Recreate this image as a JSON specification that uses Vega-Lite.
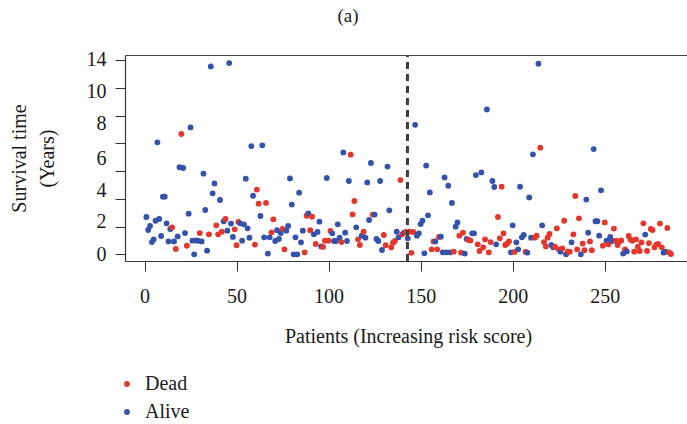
{
 "$schema": "https://vega.github.io/schema/vega-lite/v6.json",
 "width": 562,
 "height": 206,
 "autosize": {"type": "none"},
 "padding": {"left": 125, "top": 55, "right": 0, "bottom": 163},
 "background": "white",
 "config": {"view": {"stroke": null}, "font": "Liberation Serif"},
 "title": {"text": "(a)", "fontSize": 19, "fontWeight": "normal", "font": "Liberation Serif", "color": "#222", "anchor": "middle", "dx": -58, "offset": 24},
 "data": {"values": [
{"patient":1,"time":2.69,"status":"Alive"},{"patient":2,"time":1.75,"status":"Alive"},{"patient":3,"time":2.04,"status":"Alive"},{"patient":4,"time":0.88,"status":"Alive"},{"patient":5,"time":1.08,"status":"Alive"},{"patient":6,"time":2.42,"status":"Alive"},{"patient":7,"time":8.07,"status":"Alive"},{"patient":8,"time":2.55,"status":"Alive"},{"patient":9,"time":1.32,"status":"Alive"},{"patient":10,"time":4.15,"status":"Alive"},
{"patient":11,"time":4.15,"status":"Alive"},{"patient":12,"time":2.23,"status":"Alive"},{"patient":13,"time":0.93,"status":"Alive"},{"patient":14,"time":1.82,"status":"Alive"},{"patient":15,"time":1.94,"status":"Dead"},{"patient":16,"time":0.93,"status":"Alive"},{"patient":17,"time":0.38,"status":"Dead"},{"patient":18,"time":1.29,"status":"Alive"},{"patient":19,"time":6.27,"status":"Alive"},{"patient":20,"time":8.67,"status":"Dead"},
{"patient":21,"time":6.22,"status":"Alive"},{"patient":22,"time":1.53,"status":"Alive"},{"patient":23,"time":0.62,"status":"Dead"},{"patient":24,"time":2.93,"status":"Alive"},{"patient":25,"time":9.14,"status":"Alive"},{"patient":26,"time":0.98,"status":"Alive"},{"patient":27,"time":0.0,"status":"Alive"},{"patient":28,"time":1.0,"status":"Alive"},{"patient":29,"time":0.98,"status":"Alive"},{"patient":30,"time":1.53,"status":"Dead"},
{"patient":31,"time":0.93,"status":"Alive"},{"patient":32,"time":5.81,"status":"Alive"},{"patient":33,"time":3.19,"status":"Alive"},{"patient":34,"time":0.26,"status":"Alive"},{"patient":35,"time":1.44,"status":"Dead"},{"patient":36,"time":13.54,"status":"Alive"},{"patient":37,"time":4.39,"status":"Alive"},{"patient":38,"time":5.11,"status":"Alive"},{"patient":39,"time":2.09,"status":"Dead"},{"patient":40,"time":1.44,"status":"Dead"},
{"patient":41,"time":3.91,"status":"Alive"},{"patient":42,"time":1.63,"status":"Dead"},{"patient":43,"time":2.38,"status":"Alive"},{"patient":44,"time":2.55,"status":"Dead"},{"patient":45,"time":1.70,"status":"Alive"},{"patient":46,"time":13.78,"status":"Alive"},{"patient":47,"time":2.21,"status":"Alive"},{"patient":48,"time":1.25,"status":"Alive"},{"patient":49,"time":1.80,"status":"Dead"},{"patient":50,"time":0.65,"status":"Dead"},
{"patient":51,"time":2.33,"status":"Dead"},{"patient":52,"time":2.23,"status":"Alive"},{"patient":53,"time":0.98,"status":"Alive"},{"patient":54,"time":2.16,"status":"Alive"},{"patient":55,"time":5.45,"status":"Alive"},{"patient":56,"time":1.87,"status":"Alive"},{"patient":57,"time":1.20,"status":"Alive"},{"patient":58,"time":7.80,"status":"Alive"},{"patient":59,"time":4.22,"status":"Alive"},{"patient":60,"time":0.70,"status":"Dead"},
{"patient":61,"time":4.66,"status":"Dead"},{"patient":62,"time":3.65,"status":"Dead"},{"patient":63,"time":2.76,"status":"Alive"},{"patient":64,"time":7.85,"status":"Alive"},{"patient":65,"time":1.22,"status":"Alive"},{"patient":66,"time":3.70,"status":"Dead"},{"patient":67,"time":0.05,"status":"Alive"},{"patient":68,"time":1.22,"status":"Alive"},{"patient":69,"time":1.58,"status":"Dead"},{"patient":70,"time":2.52,"status":"Dead"},
{"patient":71,"time":0.96,"status":"Alive"},{"patient":72,"time":1.73,"status":"Alive"},{"patient":73,"time":1.10,"status":"Alive"},{"patient":74,"time":1.53,"status":"Alive"},{"patient":75,"time":1.82,"status":"Dead"},{"patient":76,"time":0.36,"status":"Dead"},{"patient":77,"time":1.70,"status":"Alive"},{"patient":78,"time":2.04,"status":"Alive"},{"patient":79,"time":5.47,"status":"Alive"},{"patient":80,"time":3.58,"status":"Alive"},
{"patient":81,"time":0.0,"status":"Alive"},{"patient":82,"time":1.22,"status":"Alive"},{"patient":83,"time":0.0,"status":"Alive"},{"patient":84,"time":4.44,"status":"Alive"},{"patient":85,"time":0.86,"status":"Alive"},{"patient":86,"time":1.70,"status":"Alive"},{"patient":87,"time":0.14,"status":"Dead"},{"patient":88,"time":2.78,"status":"Dead"},{"patient":89,"time":2.95,"status":"Alive"},{"patient":90,"time":1.73,"status":"Dead"},
{"patient":91,"time":2.71,"status":"Dead"},{"patient":92,"time":1.44,"status":"Alive"},{"patient":93,"time":0.74,"status":"Dead"},{"patient":94,"time":1.61,"status":"Alive"},{"patient":95,"time":2.35,"status":"Alive"},{"patient":96,"time":0.57,"status":"Alive"},{"patient":97,"time":0.53,"status":"Dead"},{"patient":98,"time":0.98,"status":"Dead"},{"patient":99,"time":5.50,"status":"Alive"},{"patient":100,"time":0.98,"status":"Dead"},
{"patient":101,"time":1.68,"status":"Dead"},{"patient":102,"time":1.51,"status":"Alive"},{"patient":103,"time":0.96,"status":"Alive"},{"patient":104,"time":0.96,"status":"Alive"},{"patient":105,"time":2.16,"status":"Alive"},{"patient":106,"time":1.20,"status":"Alive"},{"patient":107,"time":0.88,"status":"Dead"},{"patient":108,"time":7.34,"status":"Alive"},{"patient":109,"time":1.56,"status":"Alive"},{"patient":110,"time":0.96,"status":"Alive"},
{"patient":111,"time":5.28,"status":"Alive"},{"patient":112,"time":7.18,"status":"Dead"},{"patient":113,"time":2.88,"status":"Dead"},{"patient":114,"time":3.84,"status":"Dead"},{"patient":115,"time":1.94,"status":"Alive"},{"patient":116,"time":1.08,"status":"Dead"},{"patient":117,"time":0.67,"status":"Dead"},{"patient":118,"time":1.34,"status":"Alive"},{"patient":119,"time":1.63,"status":"Dead"},{"patient":120,"time":1.20,"status":"Alive"},
{"patient":121,"time":5.18,"status":"Alive"},{"patient":122,"time":2.47,"status":"Alive"},{"patient":123,"time":6.58,"status":"Alive"},{"patient":124,"time":2.86,"status":"Dead"},{"patient":125,"time":2.86,"status":"Alive"},{"patient":126,"time":1.10,"status":"Alive"},{"patient":127,"time":0.96,"status":"Alive"},{"patient":128,"time":5.28,"status":"Alive"},{"patient":129,"time":0.31,"status":"Alive"},{"patient":130,"time":1.39,"status":"Dead"},
{"patient":131,"time":0.65,"status":"Dead"},{"patient":132,"time":6.32,"status":"Alive"},{"patient":133,"time":3.17,"status":"Alive"},{"patient":134,"time":0.50,"status":"Dead"},{"patient":135,"time":0.84,"status":"Dead"},{"patient":136,"time":0.96,"status":"Dead"},{"patient":137,"time":1.63,"status":"Alive"},{"patient":138,"time":1.22,"status":"Alive"},{"patient":139,"time":5.35,"status":"Dead"},{"patient":140,"time":1.44,"status":"Dead"},
{"patient":141,"time":1.56,"status":"Alive"},{"patient":142,"time":1.61,"status":"Dead"},{"patient":143,"time":1.15,"status":"Alive"},{"patient":144,"time":1.63,"status":"Dead"},{"patient":145,"time":0.10,"status":"Dead"},{"patient":146,"time":1.61,"status":"Dead"},{"patient":147,"time":9.33,"status":"Alive"},{"patient":148,"time":1.34,"status":"Alive"},{"patient":149,"time":1.51,"status":"Alive"},{"patient":150,"time":2.18,"status":"Alive"},
{"patient":151,"time":2.42,"status":"Alive"},{"patient":152,"time":0.07,"status":"Alive"},{"patient":153,"time":6.39,"status":"Alive"},{"patient":154,"time":2.81,"status":"Alive"},{"patient":155,"time":4.46,"status":"Alive"},{"patient":156,"time":0.36,"status":"Dead"},{"patient":157,"time":0.93,"status":"Dead"},{"patient":158,"time":0.93,"status":"Alive"},{"patient":159,"time":0.36,"status":"Dead"},{"patient":160,"time":1.25,"status":"Dead"},
{"patient":161,"time":1.27,"status":"Alive"},{"patient":162,"time":0.14,"status":"Alive"},{"patient":163,"time":5.54,"status":"Alive"},{"patient":164,"time":0.14,"status":"Alive"},{"patient":165,"time":4.94,"status":"Alive"},{"patient":166,"time":0.14,"status":"Alive"},{"patient":167,"time":3.70,"status":"Alive"},{"patient":168,"time":0.19,"status":"Dead"},{"patient":169,"time":1.99,"status":"Alive"},{"patient":170,"time":2.30,"status":"Alive"},
{"patient":171,"time":1.34,"status":"Dead"},{"patient":172,"time":0.12,"status":"Dead"},{"patient":173,"time":1.56,"status":"Dead"},{"patient":174,"time":0.05,"status":"Alive"},{"patient":175,"time":1.10,"status":"Alive"},{"patient":176,"time":1.03,"status":"Dead"},{"patient":177,"time":1.00,"status":"Dead"},{"patient":178,"time":1.51,"status":"Alive"},{"patient":179,"time":1.51,"status":"Alive"},{"patient":180,"time":5.71,"status":"Alive"},
{"patient":181,"time":0.72,"status":"Dead"},{"patient":182,"time":0.24,"status":"Dead"},{"patient":183,"time":5.90,"status":"Alive"},{"patient":184,"time":0.50,"status":"Dead"},{"patient":185,"time":1.08,"status":"Dead"},{"patient":186,"time":10.44,"status":"Alive"},{"patient":187,"time":0.14,"status":"Dead"},{"patient":188,"time":0.88,"status":"Dead"},{"patient":189,"time":5.28,"status":"Alive"},{"patient":190,"time":4.85,"status":"Alive"},
{"patient":191,"time":0.72,"status":"Alive"},{"patient":192,"time":2.69,"status":"Dead"},{"patient":193,"time":1.15,"status":"Dead"},{"patient":194,"time":4.87,"status":"Dead"},{"patient":195,"time":1.51,"status":"Dead"},{"patient":196,"time":0.67,"status":"Dead"},{"patient":197,"time":0.77,"status":"Dead"},{"patient":198,"time":0.93,"status":"Dead"},{"patient":199,"time":0.14,"status":"Alive"},{"patient":200,"time":2.09,"status":"Alive"},
{"patient":201,"time":0.17,"status":"Dead"},{"patient":202,"time":0.86,"status":"Alive"},{"patient":203,"time":0.36,"status":"Alive"},{"patient":204,"time":4.87,"status":"Alive"},{"patient":205,"time":1.22,"status":"Alive"},{"patient":206,"time":1.39,"status":"Alive"},{"patient":207,"time":0.17,"status":"Dead"},{"patient":208,"time":0.12,"status":"Alive"},{"patient":209,"time":4.10,"status":"Alive"},{"patient":210,"time":1.20,"status":"Alive"},
{"patient":211,"time":7.20,"status":"Alive"},{"patient":212,"time":1.20,"status":"Dead"},{"patient":213,"time":1.34,"status":"Dead"},{"patient":214,"time":13.73,"status":"Alive"},{"patient":215,"time":7.68,"status":"Dead"},{"patient":216,"time":2.09,"status":"Alive"},{"patient":217,"time":0.88,"status":"Dead"},{"patient":218,"time":0.57,"status":"Dead"},{"patient":219,"time":1.20,"status":"Dead"},{"patient":220,"time":1.46,"status":"Dead"},
{"patient":221,"time":0.67,"status":"Alive"},{"patient":222,"time":0.50,"status":"Alive"},{"patient":223,"time":0.55,"status":"Dead"},{"patient":224,"time":1.87,"status":"Dead"},{"patient":225,"time":0.36,"status":"Dead"},{"patient":226,"time":0.19,"status":"Alive"},{"patient":227,"time":0.43,"status":"Dead"},{"patient":228,"time":2.42,"status":"Dead"},{"patient":229,"time":0.0,"status":"Alive"},{"patient":230,"time":0.19,"status":"Dead"},
{"patient":231,"time":0.19,"status":"Dead"},{"patient":232,"time":0.86,"status":"Alive"},{"patient":233,"time":1.44,"status":"Dead"},{"patient":234,"time":4.20,"status":"Dead"},{"patient":235,"time":0.36,"status":"Dead"},{"patient":236,"time":2.59,"status":"Dead"},{"patient":237,"time":0.0,"status":"Alive"},{"patient":238,"time":0.77,"status":"Dead"},{"patient":239,"time":0.29,"status":"Dead"},{"patient":240,"time":3.94,"status":"Alive"},
{"patient":241,"time":1.56,"status":"Alive"},{"patient":242,"time":0.93,"status":"Dead"},{"patient":243,"time":0.29,"status":"Dead"},{"patient":244,"time":7.58,"status":"Alive"},{"patient":245,"time":2.38,"status":"Alive"},{"patient":246,"time":2.38,"status":"Alive"},{"patient":247,"time":1.34,"status":"Alive"},{"patient":248,"time":4.61,"status":"Alive"},{"patient":249,"time":0.62,"status":"Dead"},{"patient":250,"time":2.30,"status":"Dead"},
{"patient":251,"time":0.98,"status":"Alive"},{"patient":252,"time":0.72,"status":"Dead"},{"patient":253,"time":1.25,"status":"Alive"},{"patient":254,"time":0.96,"status":"Alive"},{"patient":255,"time":1.85,"status":"Dead"},{"patient":256,"time":0.98,"status":"Dead"},{"patient":257,"time":0.67,"status":"Dead"},{"patient":258,"time":0.93,"status":"Dead"},{"patient":259,"time":1.00,"status":"Dead"},{"patient":260,"time":0.05,"status":"Alive"},
{"patient":261,"time":0.36,"status":"Dead"},{"patient":262,"time":0.21,"status":"Alive"},{"patient":263,"time":1.32,"status":"Dead"},{"patient":264,"time":1.06,"status":"Dead"},{"patient":265,"time":0.98,"status":"Dead"},{"patient":266,"time":0.19,"status":"Dead"},{"patient":267,"time":1.08,"status":"Dead"},{"patient":268,"time":0.55,"status":"Dead"},{"patient":269,"time":0.24,"status":"Dead"},{"patient":270,"time":0.86,"status":"Dead"},
{"patient":271,"time":2.23,"status":"Dead"},{"patient":272,"time":1.42,"status":"Alive"},{"patient":273,"time":0.24,"status":"Dead"},{"patient":274,"time":0.81,"status":"Dead"},{"patient":275,"time":1.82,"status":"Dead"},{"patient":276,"time":1.75,"status":"Dead"},{"patient":277,"time":0.50,"status":"Dead"},{"patient":278,"time":0.70,"status":"Dead"},{"patient":279,"time":0.74,"status":"Dead"},{"patient":280,"time":2.21,"status":"Dead"},
{"patient":281,"time":0.50,"status":"Dead"},{"patient":282,"time":0.12,"status":"Alive"},{"patient":283,"time":0.19,"status":"Alive"},{"patient":284,"time":1.90,"status":"Dead"},{"patient":285,"time":0.14,"status":"Dead"},{"patient":286,"time":0.02,"status":"Dead"}
 ]},
 "layer": [
  {
   "mark": {"type": "point", "filled": true, "size": 34, "opacity": 1},
   "encoding": {
    "x": {"field": "patient", "type": "quantitative",
      "scale": {"domain": [-10.6, 294.7], "nice": false, "zero": false},
      "axis": {"orient": "bottom", "values": [0, 50, 100, 150, 200, 250], "grid": false, "tickSize": 10, "tickColor": "#333", "domainColor": "#333", "domainWidth": 1.2, "labelFont": "Liberation Serif", "labelFontSize": 20, "labelColor": "#1a1a1a", "labelPadding": 15, "labelFlush": false,
        "title": "Patients (Increasing risk score)", "titleFont": "Liberation Serif", "titleFontSize": 20, "titleFontWeight": "normal", "titleColor": "#1a1a1a", "titleX": 283, "titleY": 75, "titleAlign": "center", "titleBaseline": "middle"}},
    "y": {"field": "time", "type": "quantitative",
      "scale": {"domain": [-0.483, 14.36], "nice": false, "zero": false},
      "axis": {"orient": "left", "values": [0, 2.35, 4.63, 6.92, 9.39, 11.75, 14], "labelExpr": "datum.value > 13 ? '14' : datum.value > 10.5 ? '10' : datum.value > 8 ? '8' : datum.value > 5.5 ? '6' : datum.value > 3.5 ? '4' : datum.value > 1 ? '2' : '0'", "grid": false, "ticks": false, "tickSize": 0, "domain": false, "labelFont": "Liberation Serif", "labelFontSize": 20, "labelColor": "#1a1a1a", "labelPadding": 19, "labelFlush": false, "labelOverlap": false,
        "title": ["Survival time", "(Years)"], "titleFont": "Liberation Serif", "titleFontSize": 20, "titleFontWeight": "normal", "titleColor": "#1a1a1a", "titleLineHeight": 28, "titleAngle": -90, "titleX": -106, "titleY": 103, "titleAlign": "center", "titleBaseline": "middle"}},
    "color": {"field": "status", "type": "nominal",
      "scale": {"domain": ["Dead", "Alive"], "range": ["#E4362A", "#3452AC"]},
      "legend": {"orient": "none", "legendX": -8, "legendY": 319, "title": null, "padding": 0, "labelFont": "Liberation Serif", "labelFontSize": 20, "labelColor": "#1a1a1a", "symbolType": "circle", "symbolSize": 34, "symbolStrokeWidth": 0, "rowPadding": 8, "labelOffset": 8}}
   }
  },
  {
   "mark": {"type": "rule", "strokeDash": [7, 5], "strokeWidth": 1.6, "color": "#444"},
   "encoding": {
    "x": {"datum": 143, "type": "quantitative",
      "scale": {"domain": [-10.6, 294.7], "nice": false, "zero": false},
      "axis": {"orient": "top", "labels": false, "ticks": false, "domain": true, "domainColor": "#444", "domainWidth": 1.2, "grid": false, "title": null}},
    "y": {"datum": -0.483, "type": "quantitative",
      "scale": {"domain": [-0.483, 14.36], "nice": false, "zero": false},
      "axis": {"orient": "left", "values": [0, 2, 4, 6, 8, 10, 12, 14], "labels": false, "ticks": true, "tickSize": 10, "tickColor": "#333", "domain": true, "domainColor": "#333", "domainWidth": 1.2, "grid": false, "title": null}},
    "y2": {"datum": 14.36}
   }
  }
 ],
 "resolve": {"axis": {"x": "independent", "y": "independent"}}
}
